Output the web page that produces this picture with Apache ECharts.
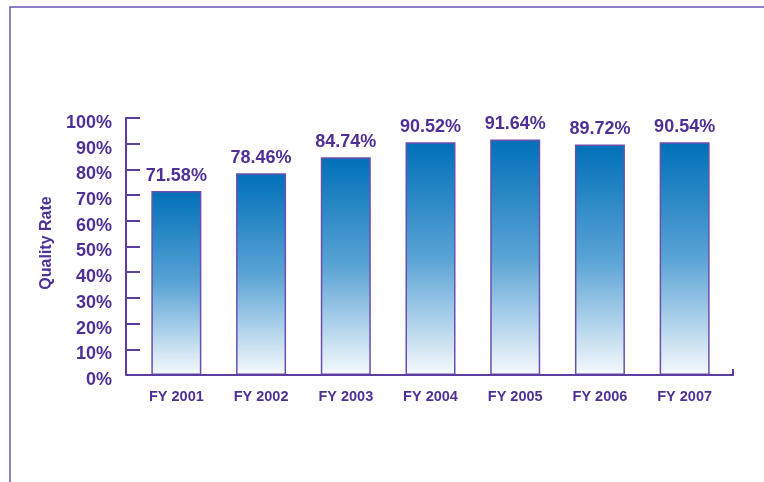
<!DOCTYPE html>
<html><head><meta charset="utf-8">
<script src="https://cdn.jsdelivr.net/npm/echarts@6/dist/echarts.min.js"></script>
<style>html,body{margin:0;padding:0;background:#fff}#c{width:764px;height:482px}</style>
</head><body><div id="c"></div>
<script>
var categories = ['FY 2001','FY 2002','FY 2003','FY 2004','FY 2005','FY 2006','FY 2007'];
var qualityRate = [71.58, 78.46, 84.74, 90.52, 91.64, 89.72, 90.54];
var yMin = 0, yMax = 100, yStep = 10;

var purple = '#4f3196';
var chart = echarts.init(document.getElementById('c'));
chart.setOption({
  animation: false,
  backgroundColor: '#fff',
  grid: {left: 134, right: 37, top: 118, bottom: 107},
  graphic: [
    {type: 'rect', shape: {x: 10, y: 7, width: 900, height: 600}, style: {fill: 'none', stroke: '#6a52b8', lineWidth: 1.5}, silent: true},
    {type: 'polyline', shape: {points: [[126, 375], [733, 375], [733, 369]]}, style: {fill: 'none', stroke: '#5b3ca0', lineWidth: 2}, silent: true, z: 10}
  ],
  xAxis: {
    type: 'category', data: categories,
    axisLine: {show: false},
    axisTick: {show: false},
    axisLabel: {color: purple, fontFamily: 'Liberation Sans', fontWeight: 'bold', fontSize: 14.5, margin: 14}
  },
  yAxis: {
    type: 'value', min: yMin, max: yMax, interval: yStep, offset: 8,
    name: 'Quality Rate', nameLocation: 'middle', nameGap: 64, nameRotate: 90,
    nameTextStyle: {color: purple, fontFamily: 'Liberation Sans', fontWeight: 'bold', fontSize: 16, padding: [0, 0, 0, 7]},
    axisLine: {show: true, lineStyle: {color: '#5b3ca0', width: 2}},
    axisTick: {show: true, inside: true, length: 14, lineStyle: {color: '#5b3ca0', width: 2}},
    splitLine: {show: false},
    axisLabel: {color: purple, fontFamily: 'Liberation Sans', fontWeight: 'bold', fontSize: 18, margin: 14, lineHeight: 24, verticalAlign: 'top', padding: [-7, 0, 0, 0], formatter: '{value}%'}
  },
  series: [{
    type: 'bar', data: qualityRate, barWidth: 50,
    itemStyle: {
      borderColor: '#6a4fb0', borderWidth: 1.5,
      color: new echarts.graphic.LinearGradient(0, 0, 0, 1, [
        {offset: 0, color: '#0070b8'},
        {offset: 0.5, color: '#5aa3d5'},
        {offset: 1, color: '#f6fafd'}
      ])
    },
    label: {show: true, position: 'top', distance: 6, color: purple, fontFamily: 'Liberation Sans', fontWeight: 'bold', fontSize: 18,
      formatter: function(p){ return p.value.toFixed(2) + '%'; }}
  }]
});
</script></body></html>
